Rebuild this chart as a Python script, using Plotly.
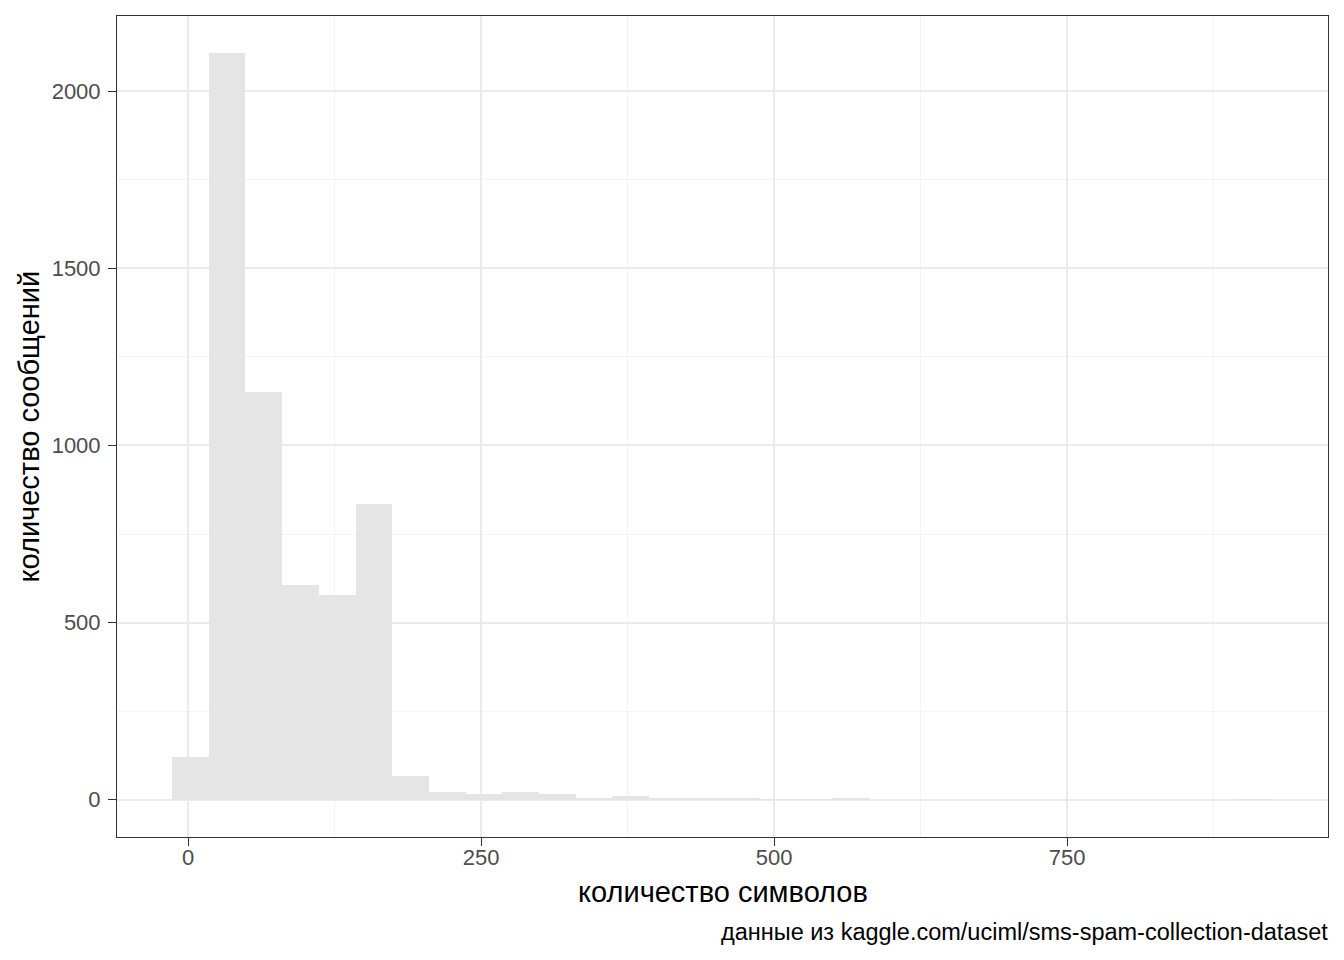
import numpy as np
import plotly.graph_objects as go

# Data: SMS message lengths histogram (30 bins, ggplot-style)
data_min = 2
data_max = 910
n_bins = 30
counts = [121, 2107, 1152, 606, 577, 834, 68, 22, 17, 22, 15, 4, 9, 4, 6,
          3, 1, 1, 2, 0, 0, 0, 0, 0, 0, 0, 0, 0, 0, 1]
x_ticks = [0, 250, 500, 750]
y_ticks = [0, 500, 1000, 1500, 2000]
x_title = "количество символов"
y_title = "количество сообщений"
caption = "данные из kaggle.com/uciml/sms-spam-collection-dataset"

binwidth = (data_max - data_min) / (n_bins - 1)
centers = [data_min + i * binwidth for i in range(n_bins)]
lo = centers[0] - binwidth / 2
hi = centers[-1] + binwidth / 2
xpad = (hi - lo) * 0.05
ymax = max(counts)
ypad = ymax * 0.05

FONT = "Liberation Sans, Arial, sans-serif"

fig = go.Figure()
fig.add_trace(go.Bar(
    x=centers, y=counts, width=binwidth,
    marker=dict(color="#E5E5E5", line=dict(width=0)),
    hoverinfo="x+y",
))

# page body has an 8px margin; offset everything by it
OFF = 8
W, H = 1328, 944
L, R, T, B = 117 - OFF, W + OFF - 1328, 16 - OFF, H + OFF - 837
ph = H - T - B
pw = W - L - R

fig.update_layout(
    width=W, height=H,
    margin=dict(l=L, r=R, t=T, b=B, pad=0),
    paper_bgcolor="white", plot_bgcolor="white",
    bargap=0, showlegend=False,
    font=dict(family=FONT, color="#4D4D4D", size=22),
    xaxis=dict(
        range=[lo - xpad, hi + xpad],
        tickvals=x_ticks, ticktext=[str(v) for v in x_ticks],
        showgrid=True, gridcolor="#EBEBEB", gridwidth=2,
        minor=dict(tickvals=[125, 375, 625, 875], showgrid=True,
                   gridcolor="#F4F4F4", gridwidth=1, ticks=""),
        ticks="outside", ticklen=8, tickcolor="#333333", tickwidth=1,
        ticklabelstandoff=-7,
        zeroline=False, showline=True, linecolor="#333333", linewidth=1, mirror=True,
        tickfont=dict(family=FONT, size=22, color="#4D4D4D"),
    ),
    yaxis=dict(
        range=[-ypad, ymax + ypad],
        tickvals=y_ticks, ticktext=[str(v) for v in y_ticks],
        showgrid=True, gridcolor="#EBEBEB", gridwidth=2,
        minor=dict(tickvals=[250, 750, 1250, 1750], showgrid=True,
                   gridcolor="#F4F4F4", gridwidth=1, ticks=""),
        ticks="outside", ticklen=8, tickcolor="#333333", tickwidth=1,
        ticklabelstandoff=3,
        zeroline=False, showline=True, linecolor="#333333", linewidth=1, mirror=True,
        tickfont=dict(family=FONT, size=22, color="#4D4D4D"),
    ),
    annotations=[
        dict(text=x_title, xref="paper", yref="paper", x=0.5, y=(837 - 892) / ph,
             xanchor="center", yanchor="middle", showarrow=False,
             font=dict(family=FONT, size=29, color="black")),
        dict(text=y_title, xref="paper", yref="paper", x=(28 - 117) / pw, y=0.5,
             xanchor="center", yanchor="middle", showarrow=False, textangle=-90,
             font=dict(family=FONT, size=29, color="black")),
        dict(text=caption, xref="paper", yref="paper", x=1.0, y=(837 - 932) / ph,
             xanchor="right", yanchor="middle", showarrow=False, xshift=2,
             font=dict(family=FONT, size=23.5, color="black")),
    ],
)

fig.write_html("out.html")
